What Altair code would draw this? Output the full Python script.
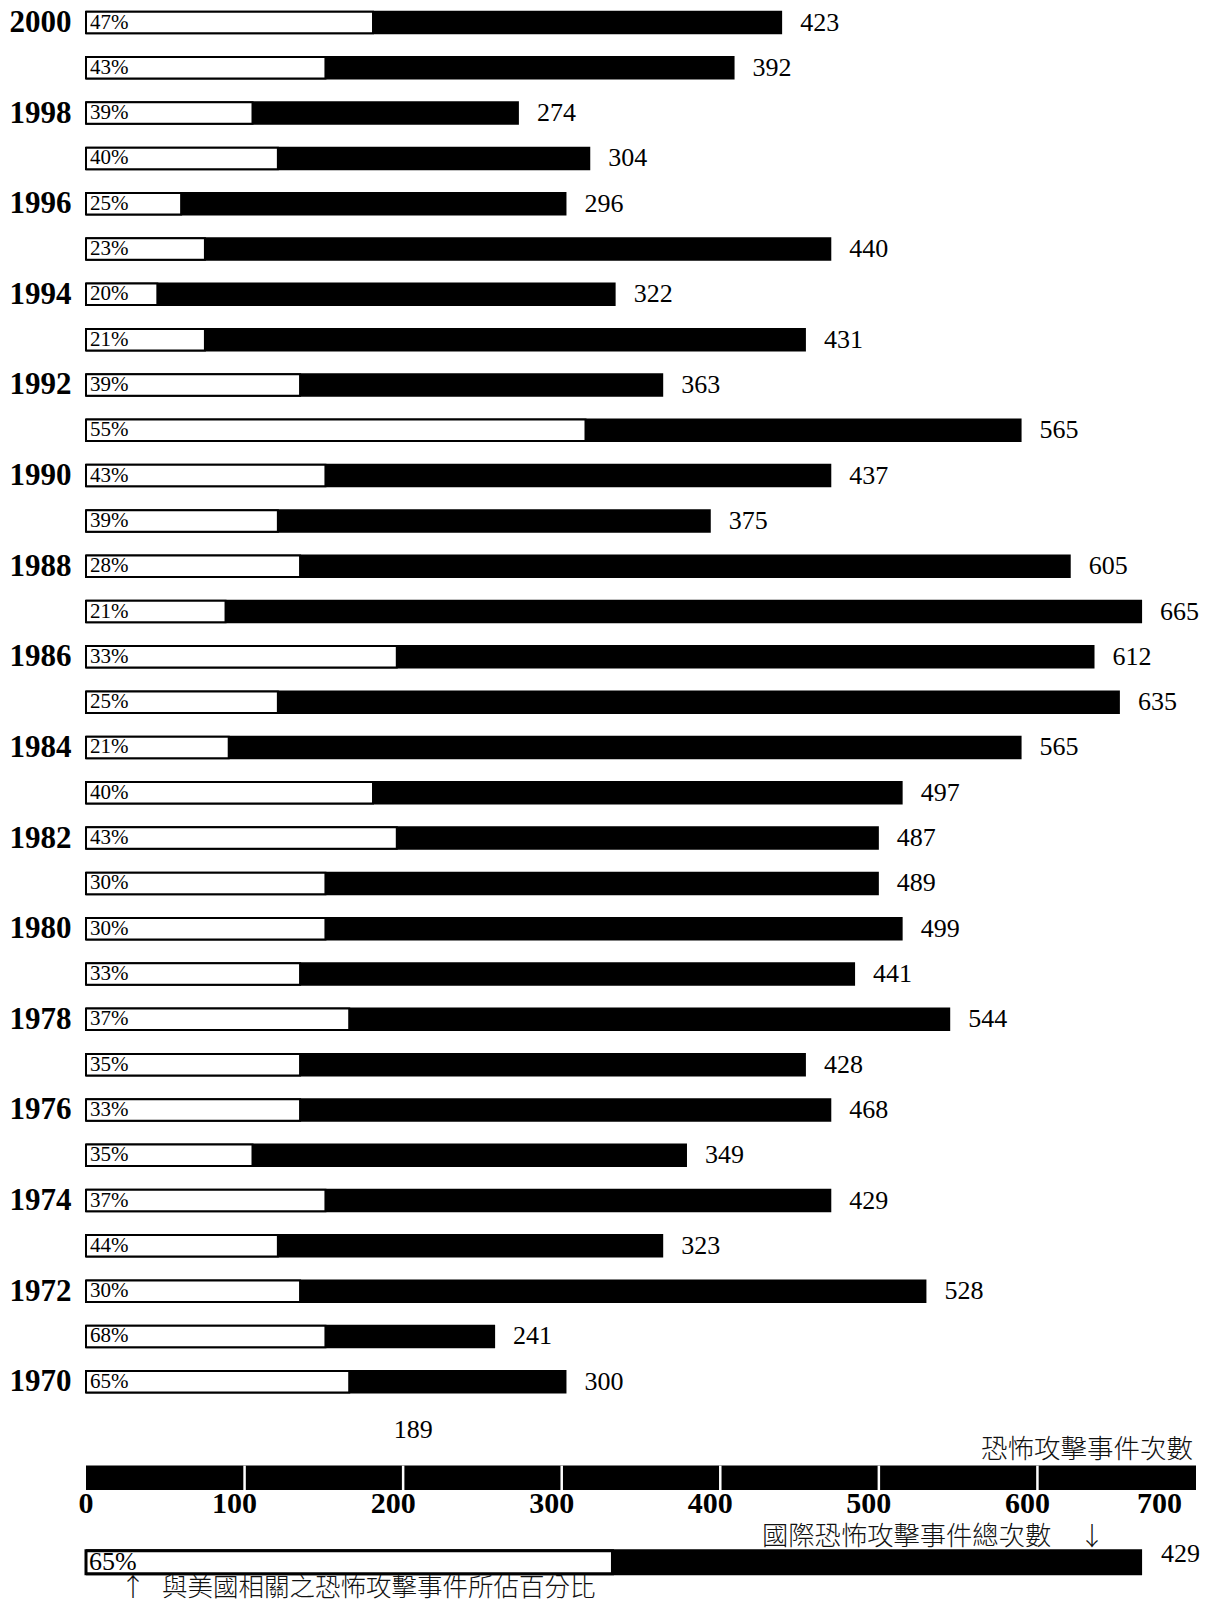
import altair as alt
import pandas as pd

# ---------------- data ----------------
years = list(range(2000, 1969, -1))
# printed totals (number right of each bar)
total_labels = [423, 392, 274, 304, 296, 440, 322, 431, 363, 565, 437, 375, 605, 665, 612,
                635, 565, 497, 487, 489, 499, 441, 544, 428, 468, 349, 429, 323, 528, 241, 300]
# printed share of US-related attacks (%)
pct_labels = [47, 43, 39, 40, 25, 23, 20, 21, 39, 55, 43, 39, 28, 21, 33,
              25, 21, 40, 43, 30, 30, 33, 37, 35, 33, 35, 37, 44, 30, 68, 65]
# bar lengths as drawn (read against the 0-700 scale)
bar_totals = [439, 409, 273, 318, 303, 470, 334, 454, 364, 590, 470, 394, 621, 666, 636,
              652, 590, 515, 500, 500, 515, 485, 545, 454, 470, 379, 470, 364, 530, 258, 303]
# white (US-related) segment lengths as drawn
bar_us = [181, 151, 105, 121, 60, 75, 45, 75, 135, 315, 151, 121, 135, 88, 196,
          121, 90, 181, 196, 151, 151, 135, 166, 135, 135, 105, 151, 121, 135, 151, 166]
extra_label = 189

axis_ticks = [0, 100, 200, 300, 400, 500, 600, 700]

legend_total_bar = 666
legend_us_bar = 332
legend_total_label = "429"
legend_pct_label = "65%"

axis_title = "恐怖攻擊事件次數"
legend_total_text = "國際恐怖攻擊事件總次數"
legend_pct_text = "與美國相關之恐怖攻擊事件所佔百分比"

# ---------------- layout ----------------
W, H = 1110, 1594
PITCH = 45.31
TOP = 14.5
r_top = -TOP / PITCH
r_bot = (H - TOP) / PITCH

ROW_EXTRA = 31.06
ROW_AXTITLE = 31.5
ROW_AXIS = 32.12
ROW_TICKLBL = 32.69
ROW_LEGTXT = 33.42
ROW_LEGEND = 33.98
ROW_LEGNUM = 33.8
ROW_LEGTXT2 = 34.56

SERIF = "Liberation Serif"
CJK = "Noto Sans CJK TC"

df = pd.DataFrame({
    "year": years,
    "total": bar_totals,
    "us": bar_us,
    "label": [str(v) for v in total_labels],
    "pct": [f"{p}%" for p in pct_labels],
})
df["row"] = 2000 - df["year"]

xs = alt.Scale(domain=[0, 700], nice=False, zero=True, padding=0)
ys = alt.Scale(domain=[r_top, r_bot], reverse=True, nice=False, zero=False, padding=0)
yaxis = alt.Axis(values=list(range(0, 31, 2)), labelExpr="2000 - datum.value",
                 domain=False, ticks=False, grid=False, title=None,
                 labelFont=SERIF, labelFontSize=31, labelFontWeight="bold",
                 labelColor="black", labelPadding=15)


def Y(v):
    return alt.Y(v, scale=ys, axis=yaxis)


def YD(r):
    return alt.Y(datum=r, type="quantitative", scale=ys, axis=yaxis)


base = alt.Chart(df)

black_bars = base.mark_bar(color="black", size=23.5, orient="horizontal").encode(
    x=alt.X("total:Q", scale=xs, axis=None, stack=None),
    y=Y("row:Q"),
)
white_bars = base.mark_bar(fill="white", stroke="black", strokeWidth=2, size=21.5,
                           orient="horizontal").encode(
    x=alt.X("us:Q", scale=xs, axis=None, stack=None),
    y=Y("row:Q"),
)
pct_text = base.mark_text(align="left", baseline="middle", dx=4, font=SERIF,
                          fontSize=21, color="black").encode(
    x=alt.X(datum=0, type="quantitative", scale=xs, axis=None),
    y=Y("row:Q"),
    text="pct:N",
)
val_text = base.mark_text(align="left", baseline="middle", dx=18, font=SERIF,
                          fontSize=26, color="black").encode(
    x=alt.X("total:Q", scale=xs, axis=None),
    y=Y("row:Q"),
    text="label:N",
)

one = pd.DataFrame({"k": [0]})
extra_text = alt.Chart(one).mark_text(align="left", baseline="middle", dx=8, font=SERIF,
                                      fontSize=26, color="black", text=str(extra_label)).encode(
    x=alt.X(datum=extra_label, type="quantitative", scale=xs, axis=None),
    y=YD(ROW_EXTRA),
)

# bottom scale bar
ticks_df = pd.DataFrame({"v": axis_ticks})
ticks_df["lbl"] = ticks_df["v"].astype(str)
scale_bar = alt.Chart(one).mark_bar(color="black", size=24.5, orient="horizontal").encode(
    x=alt.X(datum=max(axis_ticks), type="quantitative", scale=xs, axis=None),
    y=YD(ROW_AXIS),
)
dividers = alt.Chart(ticks_df).transform_filter(
    (alt.datum.v > 0) & (alt.datum.v < 700)
).mark_rule(color="white", strokeWidth=2.5).encode(
    x=alt.X("v:Q", scale=xs, axis=None),
    y=YD(ROW_AXIS - 0.27),
    y2=alt.Y2(datum=ROW_AXIS + 0.27),
)
tick_style = dict(baseline="middle", font=SERIF, fontSize=30, fontWeight="bold", color="black")
tick0 = alt.Chart(ticks_df).transform_filter(alt.datum.v == 0).mark_text(
    align="center", **tick_style).encode(
    x=alt.X("v:Q", scale=xs, axis=None), y=YD(ROW_TICKLBL), text="lbl:N")
tickmid = alt.Chart(ticks_df).transform_filter(
    (alt.datum.v > 0) & (alt.datum.v < 700)).mark_text(
    align="center", dx=-10, **tick_style).encode(
    x=alt.X("v:Q", scale=xs, axis=None), y=YD(ROW_TICKLBL), text="lbl:N")
tick700 = alt.Chart(ticks_df).transform_filter(alt.datum.v == 700).mark_text(
    align="right", dx=-14, **tick_style).encode(
    x=alt.X("v:Q", scale=xs, axis=None), y=YD(ROW_TICKLBL), text="lbl:N")

cjk_style = dict(baseline="middle", font=CJK, fontSize=25.5, fontWeight=300, color="#111111")
ax_title = alt.Chart(one).mark_text(align="right", dx=-3, text=axis_title,
                                    **{**cjk_style, "fontSize": 26.5}).encode(
    x=alt.X(datum=700, type="quantitative", scale=xs, axis=None),
    y=YD(ROW_AXTITLE),
)

# legend
leg_total_txt = alt.Chart(one).mark_text(align="left", text=legend_total_text,
                                         **{**cjk_style, "fontSize": 26.3}).encode(
    x=alt.value(676), y=YD(ROW_LEGTXT))
leg_down = alt.Chart(one).mark_text(align="center", text="↓", **cjk_style).encode(
    x=alt.value(1006), y=YD(ROW_LEGTXT))
leg_black = alt.Chart(one).mark_bar(color="black", size=26, orient="horizontal").encode(
    x=alt.X(datum=legend_total_bar, type="quantitative", scale=xs, axis=None),
    y=YD(ROW_LEGEND))
leg_white = alt.Chart(one).mark_bar(fill="white", stroke="black", strokeWidth=3, size=23,
                                    orient="horizontal").encode(
    x=alt.X(datum=legend_us_bar, type="quantitative", scale=xs, axis=None),
    y=YD(ROW_LEGEND))
leg_pct = alt.Chart(one).mark_text(align="left", baseline="middle", dx=3, font=SERIF,
                                   fontSize=26, color="black", text=legend_pct_label).encode(
    x=alt.X(datum=0, type="quantitative", scale=xs, axis=None), y=YD(ROW_LEGEND))
leg_num = alt.Chart(one).mark_text(align="left", baseline="middle", dx=19, font=SERIF,
                                   fontSize=26, color="black", text=legend_total_label).encode(
    x=alt.X(datum=legend_total_bar, type="quantitative", scale=xs, axis=None), y=YD(ROW_LEGNUM))
leg_up = alt.Chart(one).mark_text(align="center", text="↑", **cjk_style).encode(
    x=alt.value(47), y=YD(ROW_LEGTXT2))
leg_pct_txt = alt.Chart(one).mark_text(align="left", text=legend_pct_text, **cjk_style).encode(
    x=alt.value(76), y=YD(ROW_LEGTXT2))

chart = alt.layer(
    black_bars, white_bars, pct_text, val_text, extra_text,
    scale_bar, dividers, tick0, tickmid, tick700, ax_title,
    leg_total_txt, leg_down, leg_black, leg_white, leg_pct, leg_num, leg_up, leg_pct_txt,
).properties(
    width=W, height=H,
    autosize=alt.AutoSizeParams(type="none"),
    padding={"left": 78, "right": 4, "top": 0, "bottom": 0},
).configure_view(stroke=None)

chart.save("out.html", embed_options={"renderer": "svg", "actions": False})
